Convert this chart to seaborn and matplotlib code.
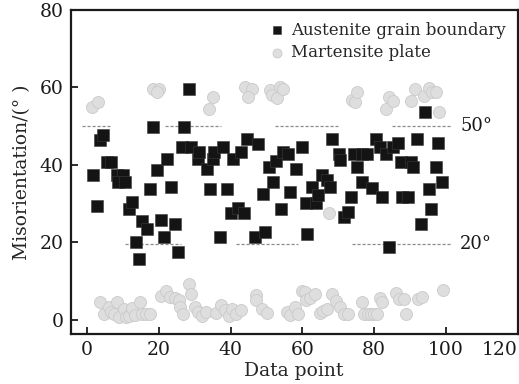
import numpy as np
import pandas as pd
import matplotlib
matplotlib.use("Agg")
import matplotlib.pyplot as plt
import seaborn as sns

# Austenite grain boundary (squares)
aus_x = [1.6, 2.9, 3.5, 4.5, 5.6, 6.6, 8.2, 10.0, 8.7, 10.5, 11.6, 12.4, 13.5, 14.6,
         15.3, 16.8, 17.5, 18.4, 19.4, 20.7, 21.5, 22.2, 23.5, 24.4, 25.3, 26.4, 27.0,
         28.5, 28.9, 30.9, 31.2, 33.3, 34.3, 35.2, 35.5, 37.0, 38.0, 39.1, 40.0, 40.7,
         42.1, 42.8, 43.7, 44.6, 46.9, 47.5, 49.1, 49.7, 50.8, 51.9, 52.6, 54.0, 54.5,
         56.1, 56.6, 58.1, 59.8, 60.9, 61.3, 62.7, 63.8, 64.4, 65.5, 66.9, 67.6, 68.2,
         70.1, 70.6, 71.6, 72.6, 73.5, 74.4, 75.1, 76.5, 76.5, 78.1, 79.3, 80.4, 81.5,
         82.1, 83.4, 84.1, 85.2, 86.6, 87.5, 87.8, 89.3, 90.3, 90.9, 92.0, 93.0, 94.1,
         95.3, 95.8, 97.2, 97.8, 99.0]
aus_y = [37.5, 29.5, 46.5, 47.8, 40.8, 40.8, 37.3, 37.3, 35.7, 35.7, 28.5, 30.4, 20.1, 15.6,
         25.6, 23.4, 33.8, 49.8, 38.7, 25.7, 21.5, 41.4, 34.4, 24.6, 17.6, 44.7, 49.9,
         59.5, 44.7, 41.4, 43.4, 38.9, 33.7, 41.4, 43.4, 21.5, 44.7, 33.7, 27.5, 41.4,
         28.8, 43.4, 27.6, 46.6, 21.5, 45.4, 32.4, 22.7, 39.5, 35.7, 41.0, 28.6, 43.4,
         42.8, 33.1, 38.9, 44.7, 30.1, 22.1, 34.4, 30.1, 32.2, 37.4, 36.1, 34.4, 46.6,
         42.8, 41.3, 26.6, 27.9, 31.8, 42.8, 39.5, 42.8, 35.7, 42.8, 34.0, 46.6, 44.7,
         31.8, 42.8, 18.9, 44.7, 45.7, 40.8, 31.8, 31.8, 40.8, 39.4, 46.6, 24.7, 53.7,
         33.8, 28.6, 39.5, 45.6, 35.7]

# Martensite plate (circles)
mar_x = [1.5, 3.0, 18.4, 20.0, 19.5, 34.0, 35.2, 44.1, 45.9, 44.8, 51.0, 51.5, 52.8, 53.7,
         54.5, 73.7, 74.6, 75.1, 83.4, 84.0, 85.2, 90.4, 91.3, 94.0, 95.2, 96.2, 97.3, 98.0,
         67.5,
         3.5, 4.8, 6.0, 6.8, 8.3, 7.6, 9.0, 10.2, 10.8, 11.8, 12.6, 13.4, 14.8, 15.2, 16.4,
         17.4, 20.5, 22.0, 23.0, 24.5, 25.6, 26.0, 26.8, 28.3, 28.9, 30.2, 31.0, 32.0, 33.2,
         35.8, 37.2, 38.4, 39.5, 40.5, 41.5, 43.0, 47.0, 47.2, 48.8, 50.0, 55.8, 56.5, 58.0,
         58.7, 59.8, 60.6, 61.0, 62.0, 63.5, 64.8, 65.8, 66.8, 68.3, 69.4, 70.4, 71.6, 72.6,
         76.5, 77.2, 78.2, 79.1, 80.0, 80.8, 81.5, 82.2, 86.0, 86.9, 88.3, 89.0, 92.3, 93.2,
         99.3]
mar_y = [55.0, 56.3, 59.5, 59.5, 58.7, 54.4, 57.6, 60.2, 59.5, 57.6, 59.4, 58.0, 57.2, 60.0,
         59.7, 56.8, 56.3, 58.9, 54.4, 57.5, 56.5, 56.5, 59.5, 57.8, 59.8, 58.9, 58.9, 53.7,
         27.5,
         4.7, 1.6, 3.2, 2.0, 4.7, 1.5, 0.8, 2.8, 0.8, 0.9, 3.0, 1.2, 4.7, 1.6, 1.6,
         1.6, 6.2, 7.5, 5.9, 5.6, 5.2, 3.4, 1.4, 9.3, 6.6, 3.4, 2.1, 1.0, 2.0,
         1.8, 3.8, 2.6, 1.0, 2.9, 1.5, 2.6, 6.3, 5.1, 2.9, 1.7, 2.0, 1.3, 3.4,
         1.5, 7.3, 7.2, 5.1, 5.5, 6.7, 1.7, 2.3, 2.8, 6.7, 4.9, 3.4, 1.6, 1.4,
         4.7, 1.5, 1.5, 1.5, 1.5, 1.5, 5.5, 4.6, 6.8, 5.3, 5.3, 1.4, 5.3, 5.9,
         7.6]

# reference lines: level, segment starts and ends
ref_levels = [50, 19.5]
ref_labels = ["50°", "20°"]
ref_starts = [[-1.3, 21.6, 52.5, 85.0], [10.6, 41.4, 73.7]]
ref_ends = [[6.3, 37.3, 69.8, 101.8], [26.3, 58.8, 101.8]]

sns.set_style("ticks")
plt.rcParams['font.family'] = ['DejaVu Serif']

fig, ax = plt.subplots(figsize=(5.19, 3.84), dpi=100)
fig.subplots_adjust(left=0.136, right=0.9975, top=0.974, bottom=0.129)

for lvl, starts, ends, lab in zip(ref_levels, ref_starts, ref_ends, ref_labels):
    ax.hlines([lvl] * len(starts), starts, ends, colors='#8c8c8c',
              linestyles=(0, (2.5, 1.5)), linewidth=0.9, zorder=1)
    ax.text(104.0, lvl, lab, va='center', ha='left', fontsize=13, color='#1a1a1a')

df_mar = pd.DataFrame({"x": mar_x, "y": mar_y})
df_aus = pd.DataFrame({"x": aus_x, "y": aus_y})

sns.scatterplot(data=df_mar, x="x", y="y", ax=ax, marker='o', s=75,
                color='#dedede', edgecolor='#cacaca', linewidth=0.6,
                label="Martensite plate", zorder=2)
sns.scatterplot(data=df_aus, x="x", y="y", ax=ax, marker='s', s=68,
                color='#141414', edgecolor='#3a3a3a', linewidth=0.4,
                label="Austenite grain boundary", zorder=3)

ax.set_xlim(-4.6, 120)
ax.set_ylim(-3.8, 80)
ax.set_xticks(np.arange(0, 121, 20))
ax.set_yticks(np.arange(0, 81, 20))
ax.tick_params(direction='in', length=5, width=1.3, labelsize=13.5, colors='#1a1a1a', pad=5)
for sp in ax.spines.values():
    sp.set_linewidth(1.6)
    sp.set_color('#1a1a1a')
# last x label sits flush against the right edge
ax.get_xticklabels()[-1].set_horizontalalignment('right')

ax.set_xlabel("Data point", fontsize=13.5, labelpad=2)
ax.set_ylabel("Misorientation/(° )", fontsize=13.5, labelpad=6)

handles, labels = ax.get_legend_handles_labels()
ax.legend(handles[::-1], labels[::-1], loc='upper left', bbox_to_anchor=(0.425, 0.995),
          frameon=False, fontsize=12, handlelength=0.8, handletextpad=0.45,
          labelspacing=0.35, borderaxespad=0.2, markerscale=0.75)

plt.savefig("out.png", dpi=100)
plt.close()
